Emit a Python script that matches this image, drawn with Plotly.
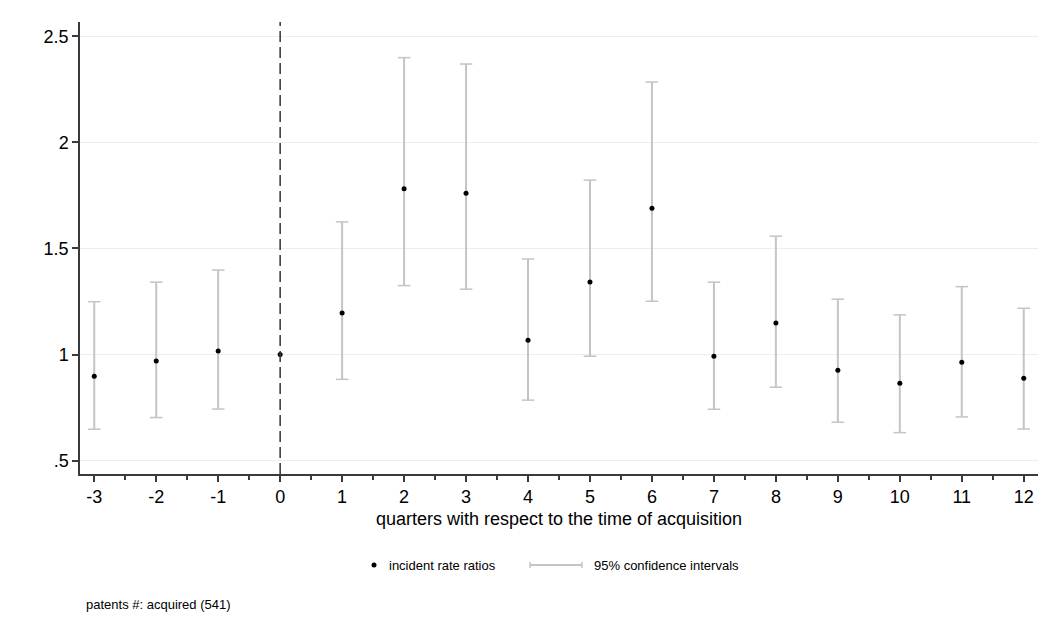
import plotly.graph_objects as go

quarters = [-3, -2, -1, 0, 1, 2, 3, 4, 5, 6, 7, 8, 9, 10, 11, 12]
irr = [0.898, 0.970, 1.017, 1.000, 1.196, 1.781, 1.760, 1.067, 1.342, 1.689,
       0.992, 1.148, 0.926, 0.865, 0.964, 0.888]
ci_low = [0.648, 0.703, 0.743, None, 0.883, 1.325, 1.308, 0.785, 0.992, 1.251,
          0.742, 0.846, 0.681, 0.632, 0.706, 0.649]
ci_high = [1.249, 1.341, 1.398, None, 1.625, 2.399, 2.369, 1.450, 1.822, 2.284,
           1.341, 1.558, 1.261, 1.187, 1.320, 1.218]

y_ticks = [0.5, 1, 1.5, 2, 2.5]
y_ticklabels = [".5", "1", "1.5", "2", "2.5"]

FONT = "Arial, Liberation Sans, sans-serif"
GRAY = "#c4c4c4"
AX = "#3a3a3a"

# plot-area geometry (pixels in the figure), used for paper coords of legend
W, H = 1053, 628
L, R, T, B = 72, 23, 14, 162
PW, PH = W - L - R, H - T - B


def px(xp):  # screen x -> paper x
    return (xp - 8 - L) / PW


def py(yp):  # screen y -> paper y
    return (H - B + 8 - yp) / PH


ci_x, ci_y = [], []
for q, lo, hi in zip(quarters, ci_low, ci_high):
    if lo is None:
        continue
    ci_x += [q, q, None]
    ci_y += [lo, hi, None]

fig = go.Figure()
fig.add_trace(go.Scatter(
    x=ci_x, y=ci_y, mode="lines+markers", name="95% confidence intervals",
    line=dict(color=GRAY, width=2),
    marker=dict(symbol="line-ew", size=9, line=dict(color=GRAY, width=1.5)),
    hoverinfo="skip", showlegend=False,
))
fig.add_trace(go.Scatter(
    x=quarters, y=irr, mode="markers", name="incident rate ratios",
    marker=dict(color="black", size=5), showlegend=False,
))

shapes = [
    dict(type="line", x0=0, x1=0, xref="x", y0=0, y1=1, yref="y domain",
         line=dict(color="#333333", width=1.5, dash="11px,5px"), layer="above"),
    # manual legend: dot
    dict(type="circle", xref="paper", yref="paper", xsizemode="pixel", ysizemode="pixel",
         xanchor=px(374), yanchor=py(565), x0=-2.5, x1=2.5, y0=-2.5, y1=2.5,
         fillcolor="black", line=dict(width=0)),
    # manual legend: CI line with caps
    dict(type="line", xref="paper", yref="paper", x0=px(530), x1=px(582),
         y0=py(565), y1=py(565), line=dict(color=GRAY, width=2)),
    dict(type="line", xref="paper", yref="paper", ysizemode="pixel", yanchor=py(565),
         x0=px(530), x1=px(530), y0=-3, y1=3, line=dict(color=GRAY, width=1.5)),
    dict(type="line", xref="paper", yref="paper", ysizemode="pixel", yanchor=py(565),
         x0=px(582), x1=px(582), y0=-3, y1=3, line=dict(color=GRAY, width=1.5)),
]

annotations = [
    dict(text="incident rate ratios", xref="paper", yref="paper", x=px(387), y=py(565),
         xanchor="left", yanchor="middle", showarrow=False, font=dict(size=13)),
    dict(text="95% confidence intervals", xref="paper", yref="paper", x=px(592), y=py(565),
         xanchor="left", yanchor="middle", showarrow=False, font=dict(size=13)),
    dict(text="patents #: acquired (541)", xref="paper", yref="paper", x=px(84), y=py(604),
         xanchor="left", yanchor="middle", showarrow=False, font=dict(size=13)),
]

fig.update_layout(
    width=W, height=H,
    margin=dict(l=L, r=R, t=T, b=B),
    paper_bgcolor="white", plot_bgcolor="white",
    font=dict(family=FONT, color="black"),
    showlegend=False,
    shapes=shapes,
    annotations=annotations,
)
fig.update_xaxes(
    range=[-3.23, 12.23], tickmode="array", tickvals=quarters,
    ticktext=[str(q) for q in quarters],
    showline=True, linecolor=AX, linewidth=1.5,
    ticks="outside", ticklen=6, tickcolor=AX, tickwidth=1.5,
    tickfont=dict(size=18), showgrid=False, zeroline=False,
    minor=dict(tickmode="array", tickvals=[q + 0.5 for q in quarters[:-1]],
               ticks="outside", ticklen=4, tickcolor=AX, tickwidth=1.5),
    title=dict(text="quarters with respect to the time of acquisition",
               font=dict(size=18), standoff=6),
)
fig.update_yaxes(
    range=[0.437, 2.567], tickmode="array", tickvals=y_ticks, ticktext=y_ticklabels,
    showline=True, linecolor=AX, linewidth=1.5,
    ticks="outside", ticklen=6, tickcolor=AX, tickwidth=1.5,
    tickfont=dict(size=18), showgrid=True, gridcolor="#e6eff1", gridwidth=1,
    zeroline=False,
)

fig.write_html("out.html")
